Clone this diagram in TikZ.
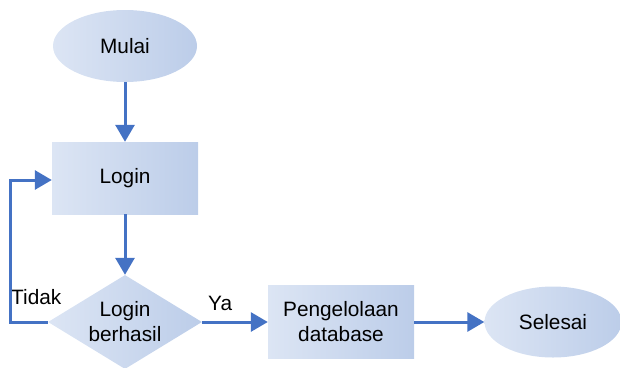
\documentclass[tikz,border=0pt]{standalone}
\usepackage{fontspec}
\setmainfont{Liberation Sans}
\usetikzlibrary{shapes.geometric,arrows.meta}
\definecolor{flowblue}{HTML}{4472C4}
\definecolor{boxlight}{HTML}{DCE5F4}
\definecolor{boxdark}{HTML}{BCCDE9}
\tikzset{
  x=1pt, y=-1pt,
  every node/.style={font=\fontsize{20.8}{25}\selectfont, text=black},
  boxfill/.style={left color=boxlight, right color=boxdark, draw=none},
  terminal/.style={ellipse, boxfill, inner sep=0pt},
  process/.style={rectangle, boxfill, inner sep=0pt, align=center},
  decision/.style={diamond, boxfill, inner sep=0pt, minimum width=154pt, minimum height=94pt},
  flow/.style={draw=flowblue, line width=3pt, -{Triangle[length=17pt,width=19pt]}},
}
\begin{document}
\begin{tikzpicture}
\useasboundingbox (0,0) rectangle (620,367);
\node[terminal, minimum width=144pt, minimum height=72pt] (start) at (125,46) {Mulai};
\node[process, minimum width=146pt, minimum height=72pt] (login) at (125,178) {Login};
\node[decision] (check) at (125,322) {};
\node[align=center] (checktext) at (check.center) {Login\\berhasil};
\node[process, minimum width=146pt, minimum height=73pt] (manage) at (341,322) {Pengelolaan\\database};
\node[terminal, minimum width=137pt, minimum height=71pt] (finish) at (553,322) {Selesai};
\node[anchor=base west, inner sep=0pt] (no) at (11,304) {Tidak};
\node[anchor=base west, inner sep=0pt] (yes) at (208,310) {Ya};

\draw[flow] (start.south) -- (login.north);
\draw[flow] (login.south) -- (check.north);
\draw[flow] (check.east) -- (manage.west);
\draw[flow] (manage.east) -- (finish.west);
\draw[flow] (check.west) -| (10,180) -- (login.west |- 0,180);
\end{tikzpicture}
\end{document}
